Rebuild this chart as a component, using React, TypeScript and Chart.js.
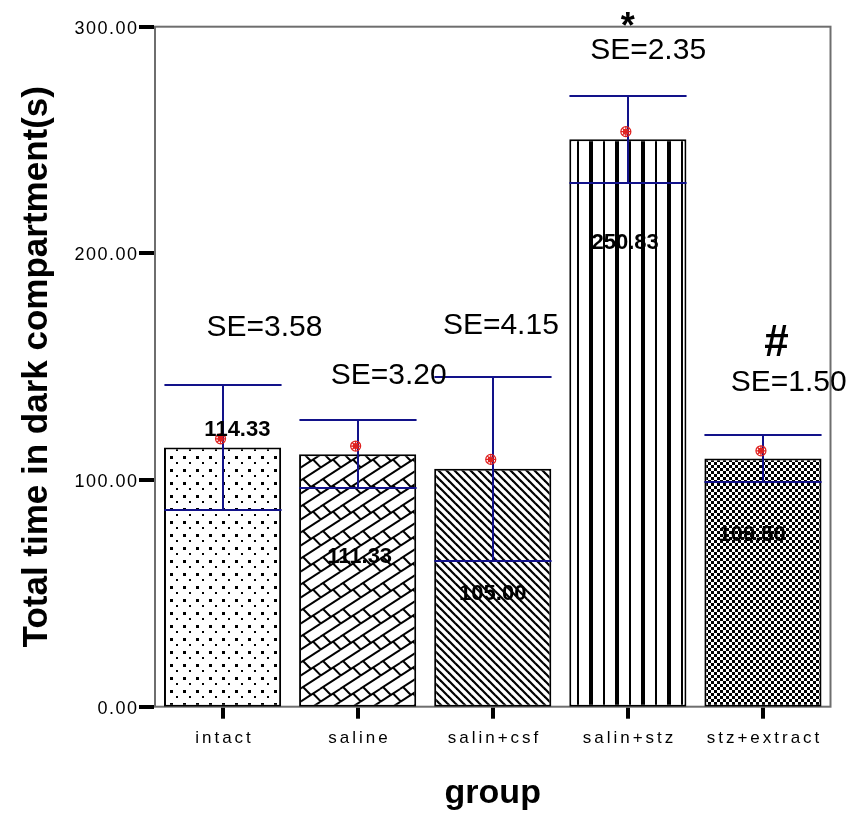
import React, { useEffect, useRef } from 'react';
import { Chart, registerables } from 'chart.js';

Chart.register(...registerables);

// ---- data ----
const categories = ['intact', 'saline', 'salin+csf', 'salin+stz', 'stz+extract'];
const barValues = [114.33, 111.33, 105.0, 250.33, 109.5];
const errorHalf = [27.6, 15.0, 40.5, 19.2, 10.3];
const markerValues = [118.2, 115.0, 109.1, 253.7, 112.9];
const valueLabels = ['114.33', '111.33', '105.00', '250.83', '109.50'];
const valueLabelY = [122.1, 66.2, 49.7, 204.4, 75.7];
const valueLabelDx = [0.11, 0.015, 0.0, -0.02, -0.08];
const seLabels = ['SE=3.58', 'SE=3.20', 'SE=4.15', 'SE=2.35', 'SE=1.50'];
const seLabelY = [167.1, 145.9, 167.9, 289.5, 142.8];
const seLabelDx = [0.31, 0.23, 0.06, 0.15, 0.19];
const yMin = 0;
const yMax = 300;
const yStep = 100;
const starIndex = 3;
const starY = 303.8;
const hashIndex = 4;
const hashY = 161.7;
const hashDx = 0.1;
const yTitle = 'Total time in dark compartment(s)';
const xTitle = 'group';

const FONT = '"Liberation Sans", Arial, Helvetica, sans-serif';

function tile(w: number, h: number, draw: (c: CanvasRenderingContext2D) => void): CanvasPattern | string {
  const cv = document.createElement('canvas');
  cv.width = w;
  cv.height = h;
  const c = cv.getContext('2d');
  if (!c) return '#fff';
  c.fillStyle = '#fff';
  c.fillRect(0, 0, w, h);
  c.fillStyle = '#000';
  c.strokeStyle = '#000';
  draw(c);
  const p = c.createPattern(cv, 'repeat');
  return p || '#fff';
}

function makePatterns(): (CanvasPattern | string)[] {
  const dots = tile(13, 13, (c) => {
    c.fillRect(1, 1, 3, 3);
    c.fillRect(7, 7, 2, 2);
  });
  const bricks = tile(20, 26, (c) => {
    c.lineWidth = 2;
    const seg = (x1: number, y1: number, x2: number, y2: number) => {
      c.beginPath();
      c.moveTo(x1, y1);
      c.lineTo(x2, y2);
      c.stroke();
    };
    for (const dx of [-20, 0, 20]) {
      for (const dy of [-26, 0, 26]) {
        seg(dx, 13 + dy, 20 + dx, dy);
        seg(dx, 26 + dy, 20 + dx, 13 + dy);
        const d = 7.88;
        seg(3 + dx, 13 - 0.65 * 3 + dy, 3 + d + dx, 13 - 0.65 * 3 + d + dy);
        seg(13 + dx, 26 - 0.65 * 13 + dy, 13 + d + dx, 26 - 0.65 * 13 + d + dy);
      }
    }
  });
  const diag = tile(8, 8, (c) => {
    c.lineWidth = 2.2;
    for (const dx of [-8, 0, 8]) {
      c.beginPath();
      c.moveTo(-4 + dx, -4);
      c.lineTo(12 + dx, 12);
      c.stroke();
    }
  });
  const vert = tile(26, 4, (c) => {
    c.fillRect(17, 0, 4, 4);
    c.fillRect(5, 0, 2, 4);
  });
  const checker = tile(6, 6, (c) => {
    c.fillRect(0, 0, 3, 3);
    c.fillRect(3, 3, 3, 3);
  });
  return [dots, bricks, diag, vert, checker];
}

function drawMarker(ctx: CanvasRenderingContext2D, x: number, y: number) {
  ctx.save();
  ctx.strokeStyle = '#e0201e';
  ctx.lineWidth = 1.2;
  ctx.beginPath();
  ctx.arc(x, y, 5, 0, Math.PI * 2);
  ctx.stroke();
  ctx.beginPath();
  ctx.arc(x, y, 2.4, 0, Math.PI * 2);
  ctx.stroke();
  ctx.beginPath();
  ctx.moveTo(x - 5, y);
  ctx.lineTo(x + 5, y);
  ctx.moveTo(x, y - 5);
  ctx.lineTo(x, y + 5);
  ctx.moveTo(x - 3.5, y - 3.5);
  ctx.lineTo(x + 3.5, y + 3.5);
  ctx.moveTo(x + 3.5, y - 3.5);
  ctx.lineTo(x - 3.5, y + 3.5);
  ctx.stroke();
  ctx.restore();
}

const overlayPlugin = {
  id: 'spssOverlay',
  beforeDatasetsDraw(chart: any) {
    const { ctx, chartArea: a } = chart;
    ctx.save();
    ctx.strokeStyle = '#6e6e6e';
    ctx.lineWidth = 2;
    ctx.strokeRect(a.left, a.top, a.right - a.left, a.bottom - a.top);
    ctx.restore();
  },
  afterDatasetsDraw(chart: any) {
    const { ctx } = chart;
    const xs = chart.scales.x;
    const ys = chart.scales.y;
    const meta = chart.getDatasetMeta(0);
    const catW = xs.width / categories.length;
    ctx.save();
    // error bars
    ctx.strokeStyle = '#12128a';
    ctx.lineWidth = 2;
    barValues.forEach((v, i) => {
      const el = meta.data[i];
      const x = Math.round(xs.getPixelForValue(i));
      const half = el.width / 2;
      const yT = Math.round(ys.getPixelForValue(v + errorHalf[i]));
      const yB = Math.round(ys.getPixelForValue(v - errorHalf[i]));
      ctx.beginPath();
      ctx.moveTo(x - half, yT);
      ctx.lineTo(x + half, yT);
      ctx.moveTo(x - half, yB);
      ctx.lineTo(x + half, yB);
      ctx.moveTo(x, yT);
      ctx.lineTo(x, yB);
      ctx.stroke();
    });
    // mean markers
    markerValues.forEach((v, i) => {
      drawMarker(ctx, xs.getPixelForValue(i) - 2, ys.getPixelForValue(v));
    });
    // value labels
    ctx.fillStyle = '#000';
    ctx.textAlign = 'center';
    ctx.textBaseline = 'middle';
    ctx.font = `bold 22px ${FONT}`;
    valueLabels.forEach((t, i) => {
      ctx.fillText(t, xs.getPixelForValue(i) + valueLabelDx[i] * catW, ys.getPixelForValue(valueLabelY[i]));
    });
    // SE labels
    ctx.font = `30px ${FONT}`;
    seLabels.forEach((t, i) => {
      ctx.fillText(t, xs.getPixelForValue(i) + seLabelDx[i] * catW, ys.getPixelForValue(seLabelY[i]));
    });
    // significance marks
    ctx.textBaseline = 'alphabetic';
    ctx.font = `bold 36px ${FONT}`;
    ctx.fillText('*', xs.getPixelForValue(starIndex), ys.getPixelForValue(starY) + 0.56 * 36);
    ctx.font = `bold 44px ${FONT}`;
    ctx.fillText('#', xs.getPixelForValue(hashIndex) + hashDx * catW, ys.getPixelForValue(hashY) + 0.35 * 44);
    ctx.restore();
  },
  afterDraw(chart: any) {
    const { ctx, chartArea: a } = chart;
    const xs = chart.scales.x;
    const ys = chart.scales.y;
    ctx.save();
    ctx.fillStyle = '#000';
    // y ticks
    ctx.font = `18px ${FONT}`;
    (ctx as any).letterSpacing = '1.5px';
    ctx.textAlign = 'right';
    ctx.textBaseline = 'middle';
    ys.ticks.forEach((t: any) => {
      const y = Math.round(ys.getPixelForValue(t.value));
      ctx.fillRect(a.left - 16, y - 2, 15, 4);
      ctx.fillText(Number(t.value).toFixed(2), a.left - 16.5, y + 2);
    });
    // x ticks
    ctx.font = `17px ${FONT}`;
    (ctx as any).letterSpacing = '3px';
    ctx.textAlign = 'center';
    ctx.textBaseline = 'alphabetic';
    xs.getLabels().forEach((lab: string, i: number) => {
      const x = Math.round(xs.getPixelForValue(i));
      ctx.fillRect(x - 2, a.bottom + 1, 4, 11);
      ctx.fillText(lab, x + 1.5, a.bottom + 36.5);
    });
    (ctx as any).letterSpacing = '0px';
    // titles
    ctx.font = `bold 34px ${FONT}`;
    ctx.fillText(xTitle, (a.left + a.right) / 2, 803);
    ctx.save();
    ctx.translate(47, (a.top + a.bottom) / 2);
    ctx.rotate(-Math.PI / 2);
    ctx.font = `bold 35px ${FONT}`;
    ctx.fillText(yTitle, 0, 0);
    ctx.restore();
    ctx.restore();
  },
};

export default function App() {
  const ref = useRef<HTMLCanvasElement | null>(null);
  useEffect(() => {
    const canvas = ref.current;
    if (!canvas) return;
    const patterns = makePatterns();
    const chart = new Chart(canvas, {
      type: 'bar',
      data: {
        labels: categories,
        datasets: [
          {
            data: barValues,
            backgroundColor: patterns as any,
            borderColor: '#000',
            borderWidth: 2,
            borderSkipped: false,
            barPercentage: 0.867,
            categoryPercentage: 1,
          },
        ],
      },
      options: {
        animation: false,
        responsive: false,
        events: [],
        layout: { padding: { left: 0, right: 21.5, top: 26.7, bottom: 0 } },
        plugins: { legend: { display: false }, tooltip: { enabled: false } },
        scales: {
          x: {
            type: 'category',
            grid: { display: false },
            border: { display: false },
            ticks: { display: false },
            afterFit: (s: any) => {
              s.height = 112.3;
            },
          },
          y: {
            min: yMin,
            max: yMax,
            grid: { display: false },
            border: { display: false },
            ticks: { display: false, stepSize: yStep },
            afterFit: (s: any) => {
              s.width = 155;
            },
          },
        },
      },
      plugins: [overlayPlugin],
    });
    return () => chart.destroy();
  }, []);
  return (
    <div style={{ position: 'absolute', left: 0, top: 0, width: 852, height: 819, background: '#fff' }}>
      <canvas ref={ref} width={852} height={819} style={{ display: 'block', width: 852, height: 819 }} />
    </div>
  );
}
